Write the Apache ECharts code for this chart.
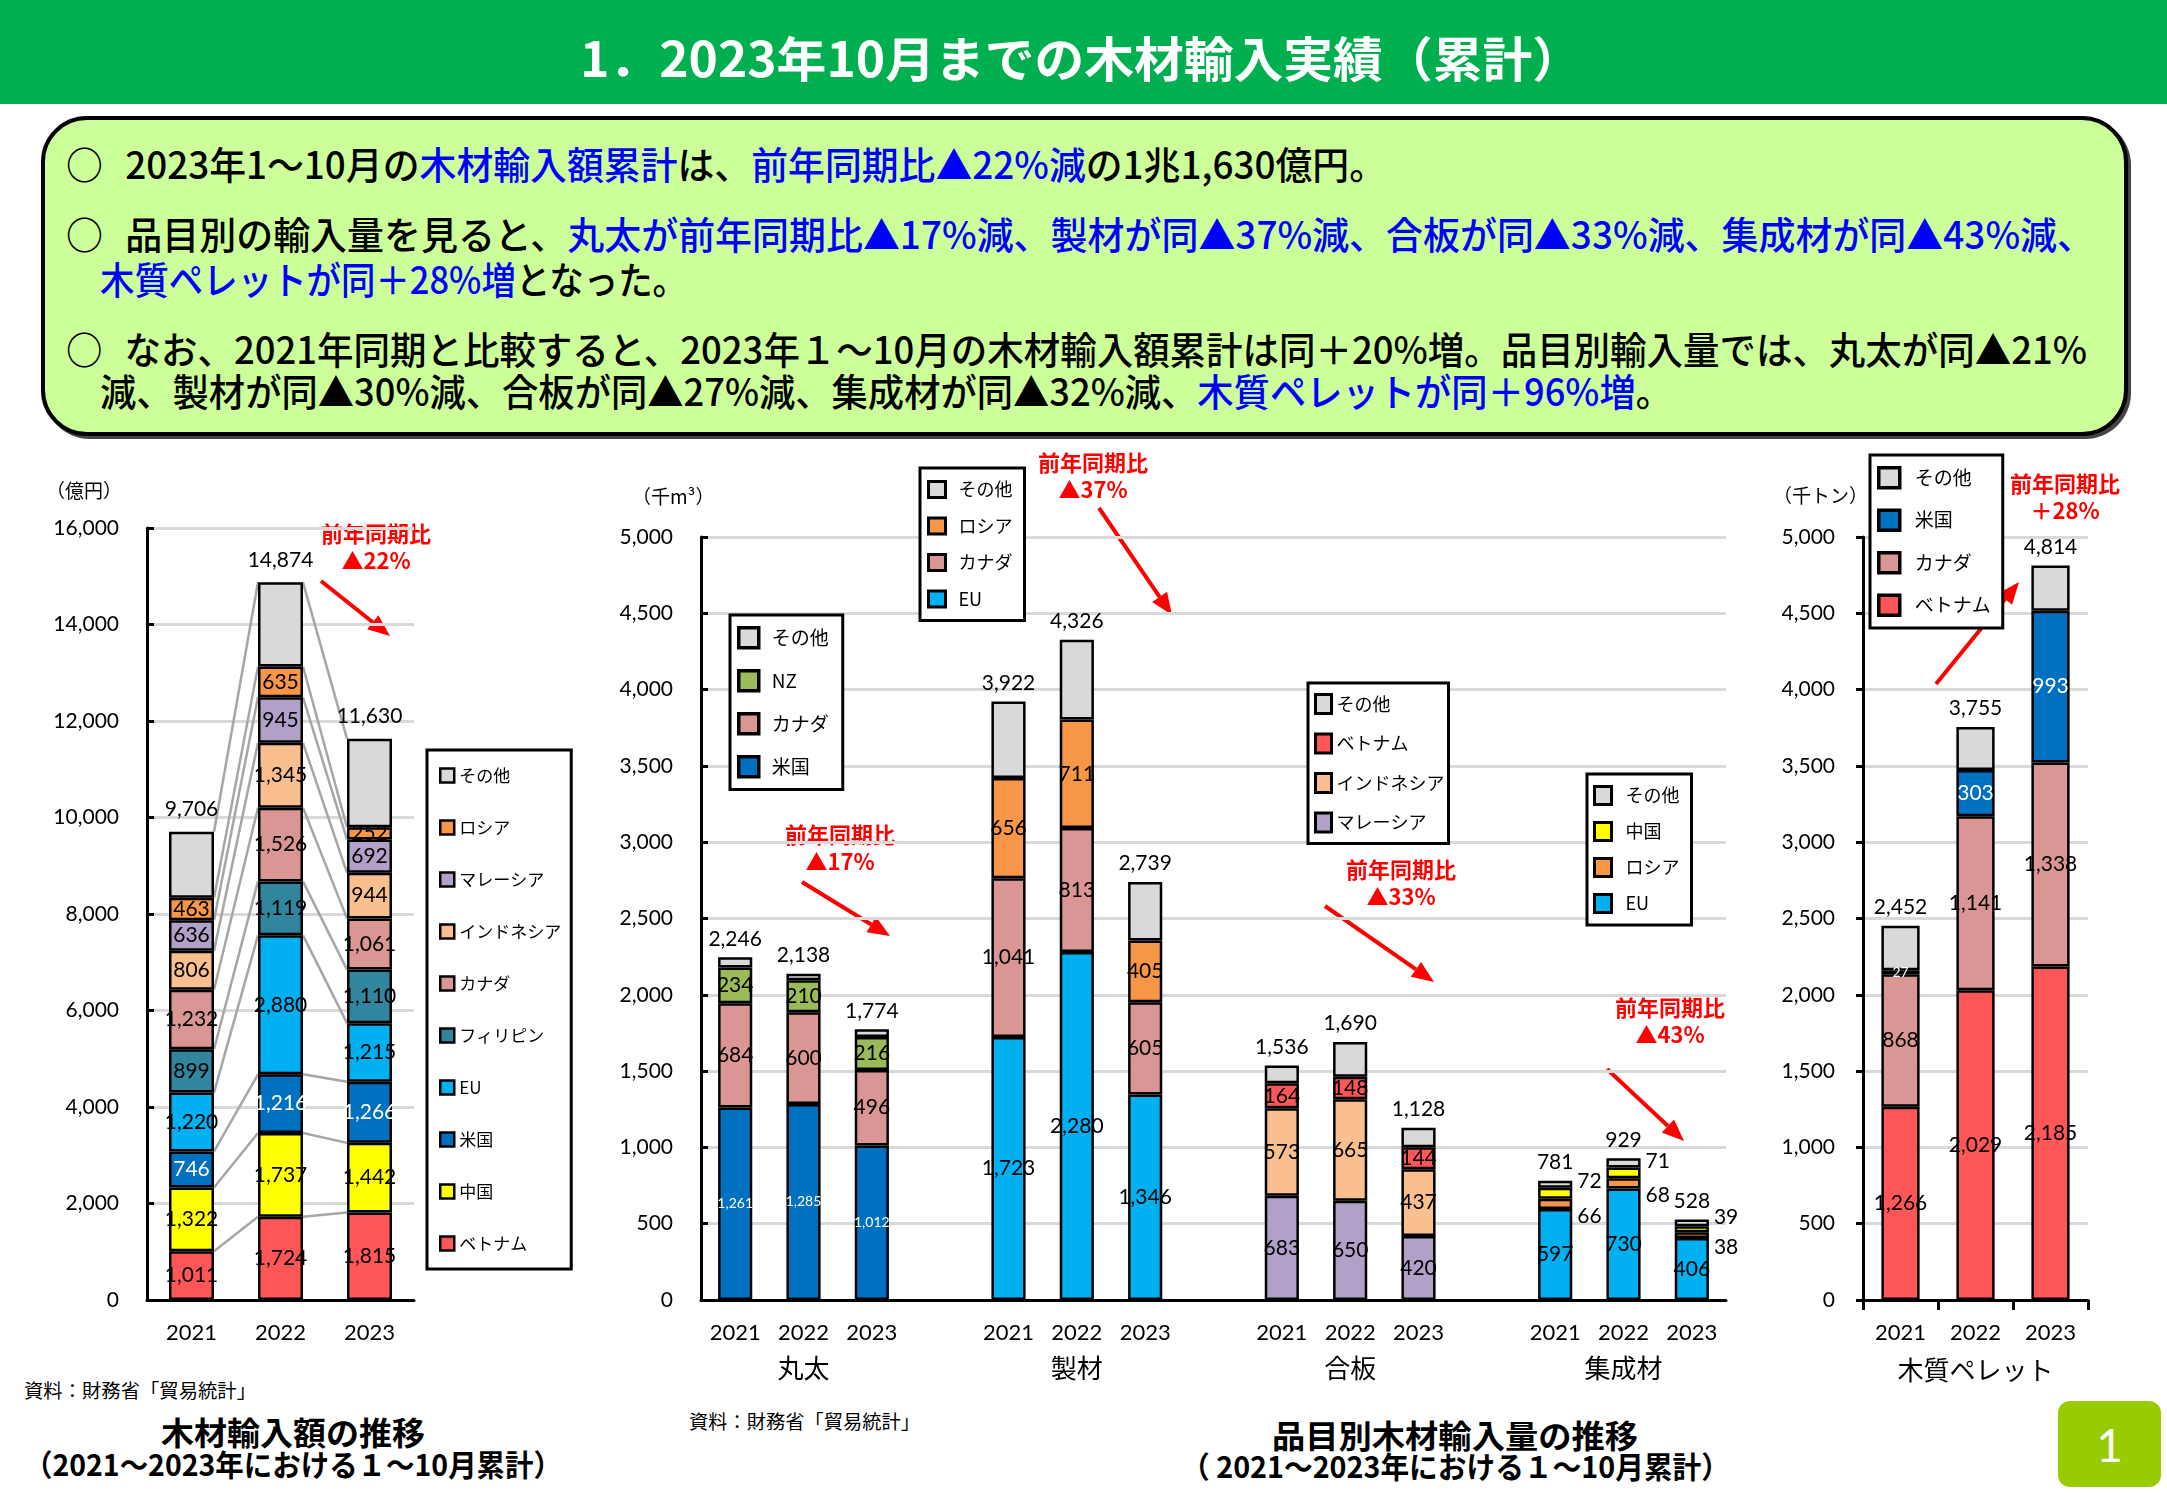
<!DOCTYPE html>
<html lang="ja"><head><meta charset="utf-8">
<script src="https://cdn.jsdelivr.net/npm/echarts@6.0.0/dist/echarts.min.js"></script>
<style>
html,body{margin:0;padding:0}
body{width:2167px;height:1500px;position:relative;background:#fff;overflow:hidden;font-family:"Noto Sans CJK JP",sans-serif;color:#000}
#hdr{position:absolute;left:0;top:0;width:2167px;height:104px;background:#00b050}
#box{position:absolute;left:41px;top:116px;width:2079px;height:312px;border:4px solid #000;border-radius:46px;background:#ccff99;box-shadow:3px 3px 0 #444}
.fit{position:absolute;white-space:nowrap;line-height:1.15;transform-origin:0 50%}
.t{font-size:38px;font-weight:500}
.bl{color:#0000ff}
.c{display:inline-block;width:61px}
.chart{position:absolute;left:0;top:0;width:2167px;height:1500px}
#pg{position:absolute;left:2058px;top:1401px;width:103px;height:86px;background:#99cc00;border-radius:12px;color:#fff;font:46px Lato, sans-serif;display:flex;align-items:center;justify-content:center}
</style></head><body>
<div id="hdr"></div>
<div class="fit" data-x="580" data-w="1002" data-cy="57" style="font-size:48px;font-weight:bold;color:#fff">1．2023年10月までの木材輸入実績（累計）</div>
<div id="box"></div>
<div class="fit t" data-x="66" data-w="1320" data-cy="163"><span class="c">○</span>2023年1～10月の<span class="bl">木材輸入額累計</span>は、<span class="bl">前年同期比▲22%減</span>の1兆1,630億円。</div>
<div class="fit t" data-x="66" data-w="2028" data-cy="233"><span class="c">○</span>品目別の輸入量を見ると、<span class="bl">丸太が前年同期比▲17%減、製材が同▲37%減、合板が同▲33%減、集成材が同▲43%減、</span></div>
<div class="fit t" data-x="100" data-w="587" data-cy="278"><span class="bl">木質ペレットが同＋28%増</span>となった。</div>
<div class="fit t" data-x="66" data-w="2021" data-cy="348"><span class="c">○</span>なお、2021年同期と比較すると、2023年１～10月の木材輸入額累計は同＋20%増。品目別輸入量では、丸太が同▲21%</div>
<div class="fit t" data-x="100" data-w="1572" data-cy="390">減、製材が同▲30%減、合板が同▲27%減、集成材が同▲32%減、<span class="bl">木質ペレットが同＋96%増</span>。</div>

<div class="fit" data-x="24" data-w="232" data-cy="1390" style="font-size:19px">資料：財務省「貿易統計」</div>
<div class="fit" data-x="689" data-w="231" data-cy="1421" style="font-size:19px">資料：財務省「貿易統計」</div>
<div class="fit" data-x="161" data-w="264" data-cy="1431" style="font-size:32px;font-weight:bold">木材輸入額の推移</div>
<div class="fit" data-x="24" data-w="538" data-cy="1463" style="font-size:30px;font-weight:bold">（2021～2023年における１～10月累計）</div>
<div class="fit" data-x="1272" data-w="366" data-cy="1434" style="font-size:32px;font-weight:bold">品目別木材輸入量の推移</div>
<div class="fit" data-x="1181" data-w="549" data-cy="1465" style="font-size:30px;font-weight:bold">（ 2021～2023年における１～10月累計）</div>

<div id="c1" class="chart"></div>
<div id="c2" class="chart"></div>
<div id="c3" class="chart"></div>
<div id="pg">1</div>

<script>
// ---------- DATA ----------
// Left: import value (億円)
const amtYears = ['2021', '2022', '2023'];
const amtCountries = ['ベトナム', '中国', '米国', 'EU', 'フィリピン', 'カナダ', 'インドネシア', 'マレーシア', 'ロシア', 'その他'];
const amtVietnam = [1011, 1724, 1815];
const amtChina = [1322, 1737, 1442];
const amtUS = [746, 1216, 1266];
const amtEU = [1220, 2880, 1215];
const amtPhilippines = [899, 1119, 1110];
const amtCanada = [1232, 1526, 1061];
const amtIndonesia = [806, 1345, 944];
const amtMalaysia = [636, 945, 692];
const amtRussia = [463, 635, 252];
const amtOther = [1371, 1747, 1833];
const amtTicks = [0, 2000, 4000, 6000, 8000, 10000, 12000, 14000, 16000];

// Middle: import volume by product (千m3)
const volYears = ['2021', '2022', '2023'];
const volGroups = ['丸太', '製材', '合板', '集成材'];
const logUS = [1261, 1285, 1012];
const logCanada = [684, 600, 496];
const logNZ = [234, 210, 216];
const logOther = [67, 43, 50];
const lumEU = [1723, 2280, 1346];
const lumCanada = [1041, 813, 605];
const lumRussia = [656, 711, 405];
const lumOther = [502, 522, 383];
const plyMalaysia = [683, 650, 420];
const plyIndonesia = [573, 665, 437];
const plyVietnam = [164, 148, 144];
const plyOther = [116, 227, 127];
const glEU = [597, 730, 406];
const glRussia = [66, 68, 38];
const glChina = [72, 71, 39];
const glOther = [46, 60, 45];
const volTicks = [0, 500, 1000, 1500, 2000, 2500, 3000, 3500, 4000, 4500, 5000];

// Right: wood pellets (千トン)
const pelYears = ['2021', '2022', '2023'];
const pelVietnam = [1266, 2029, 2185];
const pelCanada = [868, 1141, 1338];
const pelUS = [27, 303, 993];
const pelOther = [291, 282, 298];

// ---------- LAYOUT OF HTML TEXT ----------
document.querySelectorAll('.fit').forEach(el => {
  el.style.left = el.dataset.x + 'px';
  const r = el.getBoundingClientRect();
  el.style.top = (+el.dataset.cy - r.height / 2) + 'px';
  el.style.transform = 'scaleX(' + (+el.dataset.w / r.width) + ')';
});

// ---------- HELPERS ----------
const NUM = 'Lato, "Noto Sans CJK JP", sans-serif';
const JP = '"Noto Sans CJK JP", sans-serif';
const fmt = v => Number(v).toLocaleString('en-US');
const COLORS = {
  'ベトナム': '#ff5757', '中国': '#ffff00', '米国': '#0070c0', 'EU': '#00b0f0',
  'フィリピン': '#31859c', 'カナダ': '#da9694', 'インドネシア': '#fabf8f',
  'マレーシア': '#b1a0c7', 'ロシア': '#f79646', 'その他': '#d9d9d9', 'NZ': '#9bbb59'
};
const BLACK_AXIS = { color: '#000', width: 3 };

function yAxisCfg(ticks, inside, margin) {
  return {
    type: 'value', min: ticks[0], max: ticks[ticks.length - 1], interval: ticks[1] - ticks[0],
    axisLine: { show: true, lineStyle: BLACK_AXIS },
    axisTick: { show: true, inside: inside, length: 7, lineStyle: BLACK_AXIS },
    axisLabel: { formatter: v => fmt(v), fontSize: 21, fontFamily: NUM, color: '#000', margin: margin },
    splitLine: { show: true, lineStyle: { color: '#d9d9d9', width: 3 } }
  };
}
function arrowEls(x1, y1, x2, y2) {
  const dx = x2 - x1, dy = y2 - y1, L = Math.hypot(dx, dy), ux = dx / L, uy = dy / L, h = 22, w = 9;
  const bx = x2 - ux * h, by = y2 - uy * h;
  return [
    { type: 'line', silent: true, shape: { x1: x1, y1: y1, x2: bx, y2: by }, style: { stroke: '#ff0000', lineWidth: 4 } },
    { type: 'polygon', silent: true, shape: { points: [[x2, y2], [bx - uy * w, by + ux * w], [bx + uy * w, by - ux * w]] }, style: { fill: '#ff0000' } }
  ];
}
function noteEls(cx, cy, pct) {
  const st = t => ({ text: t, fill: '#ff0000', font: 'bold 22px "Noto Sans CJK JP"', align: 'center', verticalAlign: 'middle' });
  return [
    { type: 'text', silent: true, x: cx, y: cy, style: st('前年同期比') },
    { type: 'text', silent: true, x: cx, y: cy + 27, style: st(pct) }
  ];
}
function unitEl(x, cy, text, align) {
  return { type: 'text', silent: true, x: x, y: cy, style: { text: text, fill: '#000', font: '19px "Noto Sans CJK JP"', align: align || 'left', verticalAlign: 'middle' } };
}
function legendBox(o) {
  return Object.assign({
    orient: 'vertical', align: 'left', backgroundColor: '#fff', borderColor: '#000', borderWidth: 3,
    icon: 'rect', selectedMode: false, itemStyle: { borderColor: '#000', borderWidth: 3 }
  }, o);
}

// ---------- LEFT CHART ----------
(function () {
  const chart = echarts.init(document.getElementById('c1'), null, { renderer: 'canvas' });
  const values = [amtVietnam, amtChina, amtUS, amtEU, amtPhilippines, amtCanada, amtIndonesia, amtMalaysia, amtRussia, amtOther];
  const totals = amtYears.map((_, i) => values.reduce((s, a) => s + a[i], 0));
  const BW = 45;
  const series = amtCountries.map((name, k) => {
    const isOther = name === 'その他';
    return {
      name: name, type: 'bar', stack: 'amt', barWidth: BW, data: values[k], z: 3,
      itemStyle: { color: COLORS[name], borderColor: '#000', borderWidth: 2.5 },
      label: isOther
        ? { show: true, position: 'top', distance: 12, formatter: p => fmt(totals[p.dataIndex]), color: '#000', fontSize: 21, fontFamily: NUM, textBorderWidth: 0 }
        : { show: true, position: 'inside', formatter: p => fmt(p.value), color: name === '米国' ? '#fff' : '#000', fontSize: 21, fontFamily: NUM, textBorderWidth: 0 }
    };
  });
  // connector lines between segment tops
  const cum = [];
  let run = amtYears.map(() => 0);
  values.forEach(a => { run = run.map((r, i) => r + a[i]); cum.push(run.slice()); });
  const conn = [];
  cum.forEach(c => { for (let i = 0; i < amtYears.length - 1; i++) conn.push([i, c[i], c[i + 1]]); });
  series.push({
    type: 'custom', silent: true, z: 1, data: conn, encode: { x: 0, y: [1, 2] },
    renderItem: (params, api) => {
      const i = api.value(0);
      const p0 = api.coord([i, api.value(1)]);
      const p1 = api.coord([i + 1, api.value(2)]);
      return { type: 'line', shape: { x1: p0[0] + BW / 2, y1: p0[1], x2: p1[0] - BW / 2, y2: p1[1] }, style: { stroke: '#a6a6a6', lineWidth: 2.5 } };
    }
  });
  chart.setOption({
    animation: false,
    grid: { left: 147, top: 528, width: 267, height: 772 },
    xAxis: {
      type: 'category', data: amtYears,
      axisLine: { show: true, lineStyle: BLACK_AXIS }, axisTick: { show: false },
      axisLabel: { fontSize: 22, fontFamily: NUM, color: '#000', margin: 22, interval: 0 },
      splitLine: { show: false }
    },
    yAxis: yAxisCfg(amtTicks, true, 28),
    legend: legendBox({
      left: 427, top: 750, data: amtCountries.slice().reverse(),
      padding: [17, 10, 17, 12], itemWidth: 14, itemHeight: 14, itemGap: 35,
      itemStyle: { borderColor: '#000', borderWidth: 2.5 },
      textStyle: { fontFamily: JP, fontSize: 17, color: '#000' }
    }),
    graphic: [unitEl(46, 491, '（億円）')].concat(noteEls(376, 534, '▲22%'), arrowEls(321, 581, 390, 636)),
    series: series
  });
})();

// ---------- MIDDLE CHART ----------
(function () {
  const chart = echarts.init(document.getElementById('c2'));
  const cats = [], groupCats = [];
  volGroups.forEach((g, gi) => {
    volYears.forEach((y, j) => { cats.push(y); groupCats.push(j === 1 ? g : ''); });
    if (gi < volGroups.length - 1) { cats.push(''); groupCats.push(''); }
  });
  const spread = groups => {
    const out = cats.map(() => null);
    groups.forEach((g, gi) => { if (g) g.forEach((v, j) => { out[gi * 4 + j] = v; }); });
    return out;
  };
  const names = ['米国', 'EU', 'マレーシア', 'カナダ', 'インドネシア', 'ロシア', 'NZ', 'ベトナム', '中国', 'その他'];
  const data = [
    spread([logUS, null, null, null]),
    spread([null, lumEU, null, glEU]),
    spread([null, null, plyMalaysia, null]),
    spread([logCanada, lumCanada, null, null]),
    spread([null, null, plyIndonesia, null]),
    spread([null, lumRussia, null, glRussia]),
    spread([logNZ, null, null, null]),
    spread([null, null, plyVietnam, null]),
    spread([null, null, null, glChina]),
    spread([logOther, lumOther, plyOther, glOther])
  ];
  const totals = cats.map((_, i) => {
    let s = 0, any = false;
    data.forEach(a => { if (a[i] != null) { s += a[i]; any = true; } });
    return any ? s : null;
  });
  const series = names.map((name, k) => {
    const isOther = name === 'その他';
    return {
      name: name, type: 'bar', stack: 'vol', barWidth: '50%', z: 3,
      itemStyle: { color: COLORS[name], borderColor: '#000', borderWidth: 2.5 },
      data: data[k].map((v, i) => {
        if (v == null) return null;
        const item = { value: v };
        if (!isOther) {
          if (name === '米国') item.label = { color: '#fff', fontSize: 14 };
          if (i >= 12 && name === '中国') item.label = { position: 'right', offset: [0, -12] };
          if (i >= 12 && name === 'ロシア') item.label = { position: 'right', offset: [0, 12] };
        }
        return item;
      }),
      label: isOther
        ? { show: true, position: 'top', distance: 8, formatter: p => fmt(totals[p.dataIndex]), color: '#000', fontSize: 21, fontFamily: NUM, textBorderWidth: 0 }
        : { show: true, position: 'inside', formatter: p => fmt(p.value), color: '#000', fontSize: 21, fontFamily: NUM, textBorderWidth: 0 }
    };
  });
  const lgText = (pad) => ({ fontFamily: JP, fontSize: 18, color: '#000', padding: [0, 0, 0, pad] });
  chart.setOption({
    animation: false,
    grid: { left: 701, top: 537, width: 1025, height: 763 },
    xAxis: [{
      type: 'category', data: cats,
      axisLine: { show: true, lineStyle: BLACK_AXIS }, axisTick: { show: false },
      axisLabel: { fontSize: 22, fontFamily: NUM, color: '#000', margin: 22, interval: 0 },
      splitLine: { show: false }
    }, {
      type: 'category', data: groupCats, position: 'bottom',
      axisLine: { show: false }, axisTick: { show: false },
      axisLabel: { fontSize: 26, fontFamily: JP, color: '#000', margin: 55, interval: 0 },
      splitLine: { show: false }
    }],
    yAxis: yAxisCfg(volTicks, true, 28),
    legend: [
      legendBox({ left: 730, top: 615, data: ['その他', 'NZ', 'カナダ', '米国'], padding: [11, 14, 11, 7], itemWidth: 20, itemHeight: 20, itemGap: 19.5, itemStyle: { borderColor: '#000', borderWidth: 3.5 }, textStyle: Object.assign(lgText(8), { fontSize: 19 }) }),
      legendBox({ left: 920, top: 468, data: ['その他', 'ロシア', 'カナダ', 'EU'], padding: [12, 12, 12, 7], itemWidth: 17, itemHeight: 16, itemGap: 17.5, textStyle: lgText(8) }),
      legendBox({ left: 1308, top: 683, data: ['その他', 'ベトナム', 'インドネシア', 'マレーシア'], padding: [10, 4, 10, 6], itemWidth: 16, itemHeight: 19, itemGap: 17.5, textStyle: lgText(0) }),
      legendBox({ left: 1587, top: 774, data: ['その他', '中国', 'ロシア', 'EU'], padding: [11, 12, 11, 6], itemWidth: 17, itemHeight: 18, itemGap: 15, textStyle: lgText(9) })
    ],
    graphic: [unitEl(632, 497, '（千m³）')].concat(
      noteEls(840, 835, '▲17%'), arrowEls(802, 882, 890, 936),
      noteEls(1093, 463, '▲37%'), arrowEls(1099, 508, 1172, 615),
      noteEls(1401, 870, '▲33%'), arrowEls(1325, 906, 1434, 982),
      noteEls(1670, 1008, '▲43%'), arrowEls(1607, 1069, 1684, 1141)
    ),
    series: series
  });
})();

// ---------- RIGHT CHART ----------
(function () {
  const chart = echarts.init(document.getElementById('c3'));
  const names = ['ベトナム', 'カナダ', '米国', 'その他'];
  const values = [pelVietnam, pelCanada, pelUS, pelOther];
  const totals = pelYears.map((_, i) => values.reduce((s, a) => s + a[i], 0));
  const series = names.map((name, k) => {
    const isOther = name === 'その他';
    return {
      name: name, type: 'bar', stack: 'pel', barWidth: '51%', z: 3,
      itemStyle: { color: COLORS[name], borderColor: '#000', borderWidth: 2.5 },
      data: values[k].map(v => (name === '米国' && v < 100) ? { value: v, label: { fontSize: 14 } } : v),
      label: isOther
        ? { show: true, position: 'top', distance: 8, formatter: p => fmt(totals[p.dataIndex]), color: '#000', fontSize: 21, fontFamily: NUM, textBorderWidth: 0 }
        : { show: true, position: 'inside', formatter: p => fmt(p.value), color: name === '米国' ? '#fff' : '#000', fontSize: 21, fontFamily: NUM, textBorderWidth: 0 }
    };
  });
  chart.setOption({
    animation: false,
    grid: { left: 1863, top: 537, width: 225, height: 763 },
    xAxis: {
      type: 'category', data: pelYears,
      name: '木質ペレット', nameLocation: 'middle', nameGap: 57,
      nameTextStyle: { fontSize: 26, fontFamily: JP, color: '#000' },
      axisLine: { show: true, lineStyle: BLACK_AXIS },
      axisTick: { show: true, inside: false, length: 10, alignWithLabel: false, lineStyle: BLACK_AXIS },
      axisLabel: { fontSize: 22, fontFamily: NUM, color: '#000', margin: 22, interval: 0 },
      splitLine: { show: false }
    },
    yAxis: yAxisCfg(volTicks, false, 28),
    legend: legendBox({
      left: 1870, top: 455, data: ['その他', '米国', 'カナダ', 'ベトナム'],
      padding: [11, 12, 11, 7], itemWidth: 21, itemHeight: 20, itemGap: 19,
      itemStyle: { borderColor: '#000', borderWidth: 3.5 },
      textStyle: { fontFamily: JP, fontSize: 19, color: '#000', padding: [0, 0, 0, 10] }
    }),
    graphic: [unitEl(1868, 496, '（千トン）', 'right')].concat(noteEls(2065, 484, '＋28%'), arrowEls(1936, 684, 2019, 582)),
    series: series
  });
})();
</script>
</body></html>
